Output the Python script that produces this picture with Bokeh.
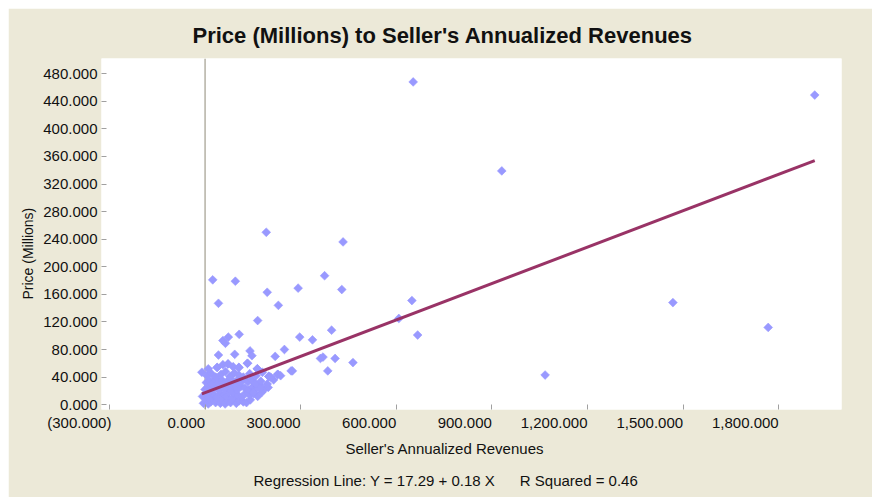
import numpy as np
from bokeh.plotting import figure
from bokeh.models import Span, Title, FixedTicker, Range1d
from bokeh.embed import file_html
from bokeh.resources import INLINE

TITLE = "Price (Millions) to Seller's Annualized Revenues"
X_LABEL = "Seller's Annualized Revenues"
Y_LABEL = "Price (Millions)"
REG_TEXT = "Regression Line: Y = 17.29 + 0.18 X" + "\u00a0" * 6 + "R Squared = 0.46"

# Seller's annualized revenues (x) and price in millions (y)
REVENUES = [
    # dense cluster near origin
    -5, 3, 10, 18, 25, 33, 40, 48, 55, 63, 72, 80, 90, 98, 108, 120, 130, 142,
    -8, 2, 12, 20, 30, 38, 47, 58, 66, 75, 85, 95, 105, 115, 128, 140, 152, 165, 178,
    0, 8, 16, 26, 35, 45, 54, 62, 72, 82, 92, 102, 113, 125, 137, 150, 160, 172, 185, 198,
    4, 14, 22, 32, 42, 52, 60, 70, 80, 90, 100, 110, 122, 134, 146, 158, 175, 195, 215,
    -10, 6, 20, 34, 50, 64, 78, 92, 106, 120, 140, 160, 180, 200, 228,
    10, 38, 56, 72, 88, 106, 133, 164, 270,
    # scattered points
    42, 24, 95, 192, 433, 195, 230, 292, 375, 429, 165, 397, 107, 73, 56, 64,
    42, 93, 141, 147, 249, 220, 297, 337, 362, 370, 408, 464, 385, 274, 228,
    200, 164, 133, 106, 72, 38, 174, 152, 206, 237,
    # outliers
    653, 1913, 931, 1468, 1767, 649, 667, 608, 1067,
]
PRICES = [
    2, 5, 1, 4, 8, 3, 6, 2, 7, 1, 5, 3, 8, 2, 6, 4, 3, 7,
    12, 15, 10, 17, 13, 11, 16, 14, 12, 18, 10, 15, 13, 11, 17, 14, 16, 12, 18,
    22, 25, 20, 27, 24, 21, 26, 23, 28, 20, 25, 22, 27, 24, 21, 26, 23, 28, 22, 25,
    32, 35, 30, 37, 33, 36, 31, 34, 38, 30, 35, 32, 37, 33, 36, 31, 34, 30, 36,
    47, 42, 45, 40, 44, 48, 41, 46, 43, 40, 45, 42, 47, 41, 44,
    52, 54, 58, 59, 55, 54, 60, 52, 49,
    147, 181, 179, 250, 236, 163, 144, 169, 187, 167, 122, 108, 102, 98, 93, 89,
    72, 73, 78, 71, 80, 70, 98, 94, 67, 69, 67, 61, 49, 49, 44,
    41, 52, 60, 54, 59, 54, 23, 18, 40, 42,
    468, 449, 339, 148, 112, 151, 101, 125, 43,
]

REG_INTERCEPT = 17.29
REG_SLOPE = 0.176

X_TICKS = [-300, 0, 300, 600, 900, 1200, 1500, 1800]
X_TICK_LABELS = ["(300.000)", "0.000", "300.000", "600.000", "900.000",
                 "1,200.000", "1,500.000", "1,800.000"]
Y_TICKS = [0, 40, 80, 120, 160, 200, 240, 280, 320, 360, 400, 440, 480]
Y_TICK_LABELS = ["0.000", "40.000", "80.000", "120.000", "160.000", "200.000",
                 "240.000", "280.000", "320.000", "360.000", "400.000",
                 "440.000", "480.000"]

FONT = "Liberation Sans"
BEIGE = "#ECE9D8"
TEXT = "#111111"


def right_pad(label):
    # invisible padding of the same advance width, so the centred label ends at its tick
    pad = ""
    for ch in label:
        if ch.isdigit():
            pad += "\u2007"
        elif ch in ".,":
            pad += "\u2008"
        else:
            pad += "\u2009"
    return label + pad


p = figure(width=864, height=489, output_backend="svg", toolbar_location=None,
           x_range=Range1d(-325, 1997), y_range=Range1d(-7, 502),
           min_border_left=93, min_border_right=31, min_border_top=50,
           min_border_bottom=88, background_fill_color="white",
           border_fill_color=BEIGE, outline_line_color=None)
p.margin = (8, 0, 0, 8)
p.xgrid.visible = False
p.ygrid.visible = False

p.xaxis.ticker = FixedTicker(ticks=X_TICKS)
p.xaxis.major_label_overrides = {t: right_pad(l) for t, l in zip(X_TICKS, X_TICK_LABELS)}
p.yaxis.ticker = FixedTicker(ticks=Y_TICKS)
p.yaxis.major_label_overrides = {t: l for t, l in zip(Y_TICKS, Y_TICK_LABELS)}
for ax in (p.xaxis[0], p.yaxis[0]):
    ax.axis_line_color = None
    ax.minor_tick_line_color = None
    ax.major_tick_in = 5
    ax.major_tick_out = 0
    ax.major_tick_line_color = "#A0A0A0"
    ax.major_label_text_font = FONT
    ax.major_label_text_font_size = "15px"
    ax.major_label_text_color = TEXT
    ax.major_label_standoff = 4

p.add_layout(Span(location=0, dimension="height", line_color="#B4B1A5",
                  line_width=1.5, level="underlay"))

p.scatter(REVENUES, PRICES, marker="square", angle=np.pi / 4, size=6.2,
          fill_color="#9999FF", line_color="#9999FF", line_width=0.6)

reg_x = [min(REVENUES), max(REVENUES)]
reg_y = [REG_INTERCEPT + REG_SLOPE * v for v in reg_x]
p.line(reg_x, reg_y, line_color="#993366", line_width=3)

p.title.text = TITLE
p.title.align = "left"
p.title.offset = 91
p.title.standoff = 22
p.title.text_font = FONT
p.title.text_font_size = "22px"
p.title.text_font_style = "bold"
p.title.text_color = TEXT

p.add_layout(Title(text=X_LABEL, align="left", offset=244, standoff=8,
                   text_font=FONT, text_font_size="15px", text_font_style="normal",
                   text_color=TEXT), "below")
p.add_layout(Title(text=REG_TEXT, align="left", offset=152, standoff=18,
                   text_font=FONT, text_font_size="15px", text_font_style="normal",
                   text_color=TEXT), "below")
p.add_layout(Title(text=Y_LABEL, align="left", offset=110, standoff=10,
                   text_font=FONT, text_font_size="14px", text_font_style="normal",
                   text_color=TEXT), "left")

open("out.html", "w").write(file_html(p, INLINE))
